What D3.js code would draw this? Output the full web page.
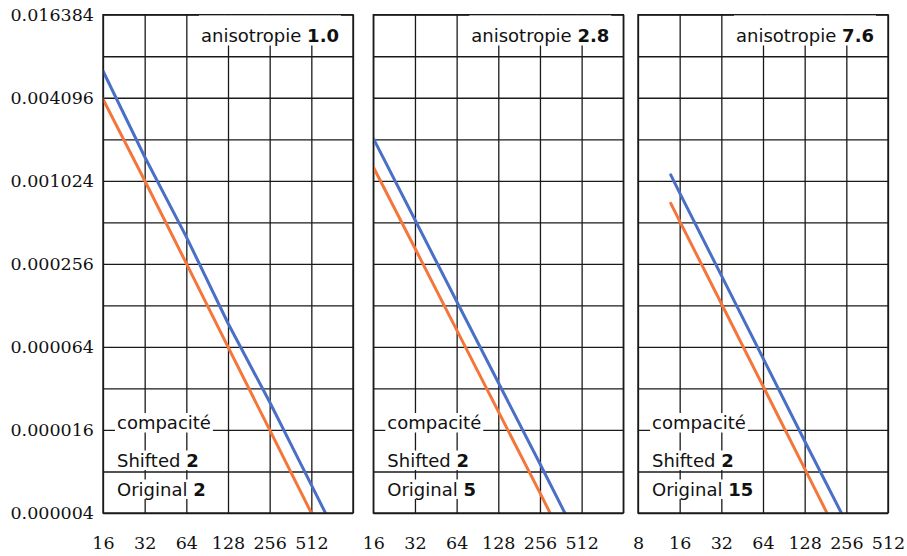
<!DOCTYPE html>
<html>
<head>
<meta charset="utf-8">
<script src="https://cdn.jsdelivr.net/npm/d3@7"></script>
<style>
  body { margin: 0; background: #fff; }
  .grid line { stroke: #1a1a1a; stroke-width: 1.3; }
  .grid path { display: none; }
  .ticklab text { font-family: "DejaVu Serif", serif; font-size: 17.5px; fill: #111; }
  .ticklab path { display: none; }
  .lbl { font-family: "DejaVu Sans", sans-serif; font-size: 18px; fill: #111; }
</style>
</head>
<body>
<div id="chart"></div>
<script>
// Data
// =================================
var yGrid = [0.000004, 0.000008, 0.000016, 0.000032, 0.000064, 0.000128, 0.000256,
             0.000512, 0.001024, 0.002048, 0.004096, 0.008192, 0.016384];
var yLabels = [0.000004, 0.000016, 0.000064, 0.000256, 0.001024, 0.004096, 0.016384];

var xTicksA = [16, 32, 64, 128, 256, 512, 1024];
var xLabelsA = [16, 32, 64, 128, 256, 512];
var xTicksB = [8, 16, 32, 64, 128, 256, 512];

var anisotropy = ["1.0", "2.8", "7.6"];
var shiftedCompact = [2, 2, 2];
var originalCompact = [2, 5, 15];

// panel 1
var n1 = [16, 32, 64, 128, 256, 512, 1024];
var blue1 = [0.0064, 0.00153, 0.000402, 0.000095, 0.0000255, 0.0000064, 0.0000016];
var orange1 = [0.0040, 0.00103, 0.000258, 0.000064, 0.000016, 0.0000040, 0.0000010];
// panel 2
var n2 = [16, 32, 64, 128, 256, 512];
var blue2 = [0.00208, 0.000534, 0.000137, 0.0000353, 0.0000091, 0.0000023];
var orange2 = [0.00129, 0.000332, 0.000085, 0.0000218, 0.0000056, 0.0000014];
// panel 3
var n3 = [13.8, 16, 32, 64, 128, 256, 512];
var blue3 = [0.00113, 0.000838, 0.000211, 0.000053, 0.0000133, 0.0000034, 0.00000085];
var orange3 = [0.000702, 0.000523, 0.000132, 0.0000333, 0.0000084, 0.0000021, 0.00000053];

var panels = [
  {left: 103, dom: [16, 1024], ticks: xTicksA, labels: xLabelsA, n: n1, blue: blue1, orange: orange1},
  {left: 373.3, dom: [16, 1024], ticks: xTicksA, labels: xLabelsA, n: n2, blue: blue2, orange: orange2},
  {left: 638, dom: [8, 512], ticks: xTicksB, labels: xTicksB, n: n3, blue: blue3, orange: orange3}
];

// Set up chart
var svgWidth = 907;
var svgHeight = 556;
var plotTop = 14.7, plotBottom = 513, pw = 250;
var blueCol = "#4a6fc6", orangeCol = "#f5763b";

var svg = d3.select("#chart")
  .append("svg")
  .attr("width", svgWidth)
  .attr("height", svgHeight);

var yScale = d3.scaleLog().base(2)
  .domain([0.000004, 0.016384])
  .range([plotBottom, plotTop]);

// y labels on the left
svg.append("g")
  .attr("class", "ticklab")
  .attr("transform", "translate(103,0)")
  .call(d3.axisLeft(yScale).tickValues(yLabels).tickSize(0).tickPadding(9)
    .tickFormat(d => d.toFixed(6)));

panels.forEach(function(p, i) {
  var x = d3.scaleLog().base(2).domain(p.dom).range([p.left, p.left + pw]);
  var g = svg.append("g");

  // grid
  g.append("g").attr("class", "grid")
    .attr("transform", `translate(0,${plotBottom})`)
    .call(d3.axisBottom(x).tickValues(p.ticks).tickSize(-(plotBottom - plotTop)).tickFormat(""));
  g.append("g").attr("class", "grid")
    .attr("transform", `translate(${p.left},0)`)
    .call(d3.axisLeft(yScale).tickValues(yGrid).tickSize(-pw).tickFormat(""));

  // x labels
  g.append("g").attr("class", "ticklab")
    .attr("transform", `translate(0,${plotBottom})`)
    .call(d3.axisBottom(x).tickValues(p.labels).tickSize(0).tickPadding(24).tickFormat(d => d));

  // clip
  svg.append("clipPath").attr("id", "clip" + i)
    .append("rect")
    .attr("x", p.left).attr("y", plotTop)
    .attr("width", pw).attr("height", plotBottom - plotTop);

  var line = d3.line()
    .x(d => x(d[0]))
    .y(d => yScale(d[1]));

  [[p.blue, blueCol], [p.orange, orangeCol]].forEach(function(s) {
    g.append("path")
      .datum(p.n.map((v, k) => [v, s[0][k]]))
      .attr("clip-path", `url(#clip${i})`)
      .attr("fill", "none")
      .attr("stroke", s[1])
      .attr("stroke-width", 3)
      .attr("stroke-linecap", "round")
      .attr("d", line);
  });

  // frame
  g.append("rect")
    .attr("x", p.left).attr("y", plotTop)
    .attr("width", pw).attr("height", plotBottom - plotTop)
    .attr("fill", "none").attr("stroke", "#1a1a1a").attr("stroke-width", 1.4);

  // labels with white backgrounds
  function label(xp, yp, anchor, parts, boxTop) {
    var lg = g.append("g");
    var bg = lg.append("rect").attr("fill", "#fff");
    var t = lg.append("text").attr("class", "lbl")
      .attr("x", xp).attr("y", yp).attr("text-anchor", anchor);
    parts.forEach(function(pt) {
      t.append("tspan").attr("font-weight", pt[1] ? "bold" : null).text(pt[0]);
    });
    var bb = t.node().getBBox();
    var y0 = boxTop != null ? boxTop : yp - 16;
    bg.attr("x", bb.x - 2).attr("y", y0)
      .attr("width", bb.width + 4).attr("height", yp + 3.5 - y0);
  }

  label(p.left + pw - 14, 42, "end", [["anisotropie ", false], [anisotropy[i], true]], plotTop + 0.7);
  label(p.left + 14, 429, "start", [["compacité", false]]);
  label(p.left + 14, 466.5, "start", [["Shifted ", false], [String(shiftedCompact[i]), true]]);
  label(p.left + 14, 495.5, "start", [["Original ", false], [String(originalCompact[i]), true]]);
});
</script>
</body>
</html>
